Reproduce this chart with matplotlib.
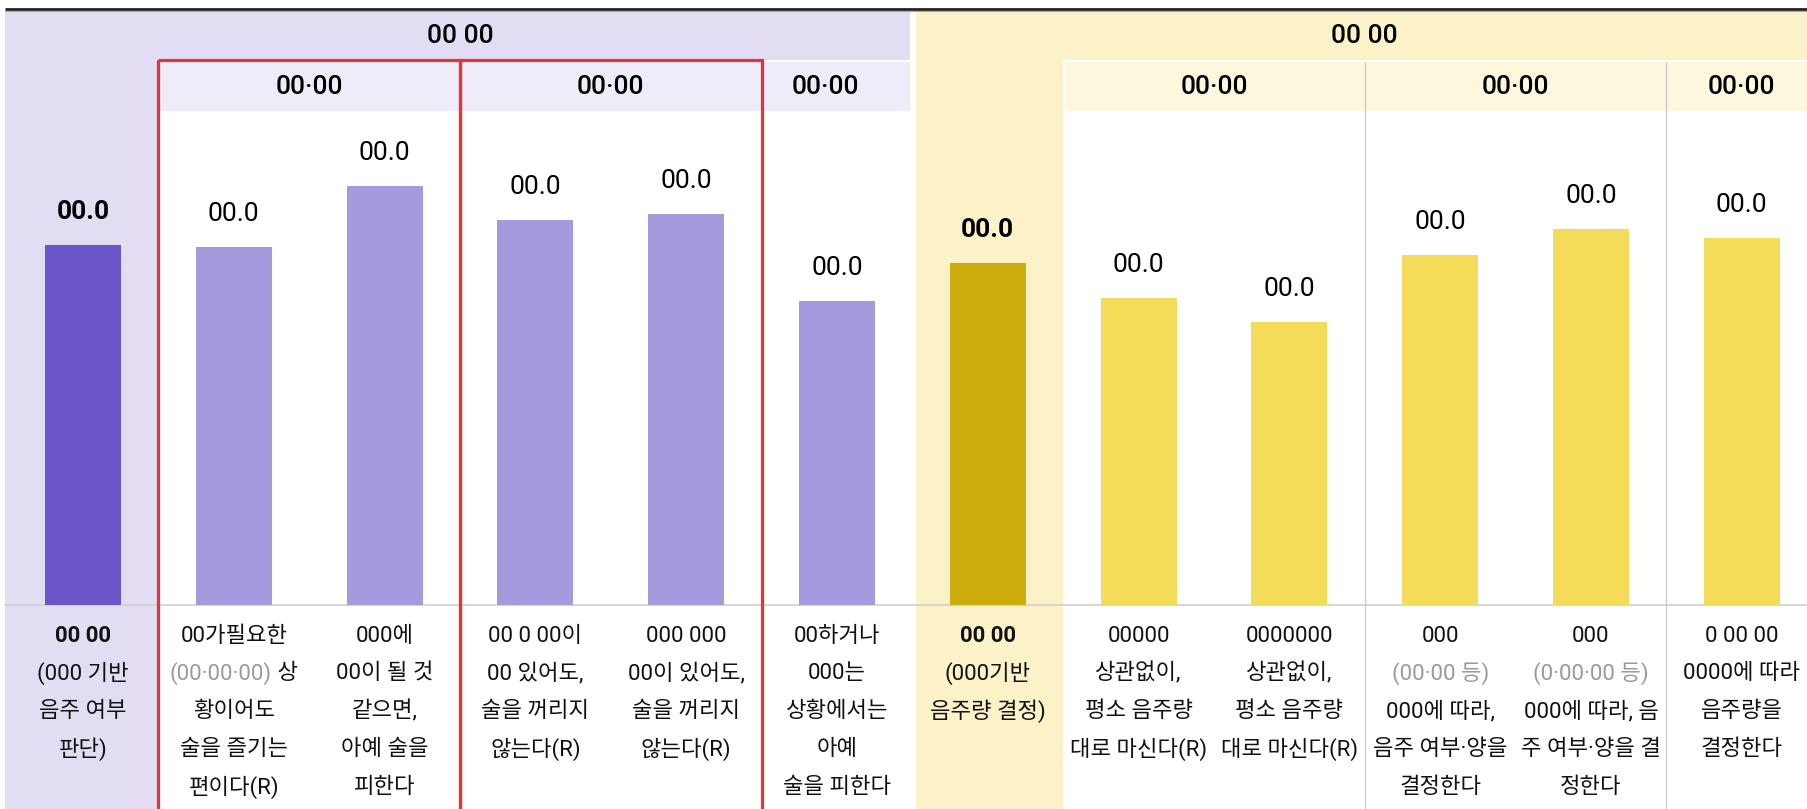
import matplotlib
matplotlib.use("Agg")
import matplotlib.pyplot as plt
from matplotlib.patches import Rectangle

# Latin digits / punctuation from Roboto, hangul falls back to Noto CJK
plt.rcParams['font.family'] = ['Roboto', 'Noto Sans CJK KR', 'DejaVu Sans']

# --- data ---------------------------------------------------------------
values = [51.4, 51.1, 59.9, 55.0, 55.9, 43.4, 48.9, 43.9, 40.4, 50.0, 53.7, 52.4]
value_labels = ["00.0"] * 12
bar_colors = ["#6B55C9"] + ["#A69ADF"] * 5 + ["#CEAC0E"] + ["#F5DB5A"] * 5
total_cols = [0, 6]

group_titles = ["00 00", "00 00"]
sub_titles = ["00·00", "00·00", "00·00", "00·00", "00·00", "00·00"]
sub_pos = [1.5, 3.5, 4.92, 7.5, 9.5, 11.0]

label_lines = [
    ["00 00", "(000 기반", "음주 여부", "판단)"],
    ["00가필요한", "(00·00·00) 상", "황이어도", "술을 즐기는", "편이다(R)"],
    ["000에", "00이 될 것", "같으면,", "아예 술을", "피한다"],
    ["00 0 00이", "00 있어도,", "술을 꺼리지", "않는다(R)"],
    ["000 000", "00이 있어도,", "술을 꺼리지", "않는다(R)"],
    ["00하거나", "000는", "상황에서는", "아예", "술을 피한다"],
    ["00 00", "(000기반", "음주량 결정)"],
    ["00000", "상관없이,", "평소 음주량", "대로 마신다(R)"],
    ["0000000", "상관없이,", "평소 음주량", "대로 마신다(R)"],
    ["000", "(00·00 등)", "000에 따라,", "음주 여부·양을", "결정한다"],
    ["000", "(0·00·00 등)", "000에 따라, 음", "주 여부·양을 결", "정한다"],
    ["0 00 00", "0000에 따라", "음주량을", "결정한다"],
]
gray_text = ["(00·00·00)", "(00·00 등)", "(0·00·00 등)"]

# --- layout (pixels) ----------------------------------------------------
W, H = 1808, 809
colw = 150.8
x0 = -83 / colw
x1 = x0 + W / colw
base_y = 605
top_y = 111
px_per_unit = 7.0

def px2x(px):
    return px / colw + x0

fig = plt.figure(figsize=(W / 100, H / 100), dpi=100)
ax = fig.add_axes([0, 0, 1, 1])
ax.set_xlim(x0, x1)
ax.set_ylim(H, 0)
ax.axis('off')

purple_bg = "#E2DDF3"
purple_sub = "#EFECF9"
yellow_bg = "#FBF2C7"
yellow_sub = "#FDF7DE"

left = px2x(5)
p_end = px2x(910)
y_start = px2x(916)

ax.add_patch(Rectangle((left, 11), p_end - left, 49, color=purple_bg, lw=0))
ax.add_patch(Rectangle((left, 60), 0.5 - left, H - 60, color=purple_bg, lw=0))
ax.add_patch(Rectangle((0.5, 62), p_end - 0.5, 49, color=purple_sub, lw=0))
ax.add_patch(Rectangle((y_start, 11), x1 - y_start, 49, color=yellow_bg, lw=0))
ax.add_patch(Rectangle((y_start, 60), 6.5 - y_start, H - 60, color=yellow_bg, lw=0))
ax.add_patch(Rectangle((px2x(1065), 62), x1 - px2x(1065), 49, color=yellow_sub, lw=0))

# lines
ax.plot([left, x1], [9, 9], color="#222222", lw=2.0, solid_capstyle='butt')
ax.plot([left, x1], [11, 11], color="#AAAAAA", lw=0.8)
ax.plot([left, x1], [base_y, base_y], color="#CFCFCF", lw=1.2)
for xv in [8.5, 10.5]:
    ax.plot([xv, xv], [62, H], color="#CCCCCC", lw=1.0)
for xa, xb in [(0.5, 2.5), (2.5, 4.5)]:
    ax.add_patch(Rectangle((xa, 60), xb - xa, H, fill=False,
                           edgecolor="#E8313B", lw=2.3, zorder=5))

# header text
ax.text(2.5, 36, group_titles[0], ha='center', va='center', fontsize=19, fontweight='medium')
ax.text(8.5, 36, group_titles[1], ha='center', va='center', fontsize=19, fontweight='medium')
for xs, t in zip(sub_pos, sub_titles):
    ax.text(xs, 87, t, ha='center', va='center', fontsize=19, fontweight='medium')

# bars
axb = fig.add_axes([0, (H - base_y) / H, 1, (base_y - top_y) / H])
axb.set_xlim(x0, x1)
axb.set_ylim(0, (base_y - top_y) / px_per_unit)
axb.axis('off')
axb.patch.set_alpha(0)
xs = list(range(len(values)))
axb.bar(xs, values, width=76 / colw, color=bar_colors, zorder=3)
for i, (v, t) in enumerate(zip(values, value_labels)):
    axb.annotate(t, (i, v), xytext=(0, 33), textcoords='offset pixels',
                 ha='center', va='center', fontsize=19,
                 fontweight='bold' if i in total_cols else 'normal')

# category labels
fig.canvas.draw()
renderer = fig.canvas.get_renderer()
line_h = 37.8
first_y = 636
lab_size = 16

def draw_parts(x, y, parts, size, weight):
    texts = []
    for s, c in parts:
        t = ax.text(0, y, s, ha='left', va='center', fontsize=size,
                    fontweight=weight, color=c)
        texts.append(t)
    widths = [t.get_window_extent(renderer).width for t in texts]
    cx = ax.transData.transform((x, y))[0]
    start = cx - sum(widths) / 2
    for t, w in zip(texts, widths):
        t.set_x(ax.transData.inverted().transform((start, 0))[0])
        start += w

for i, lines in enumerate(label_lines):
    for j, line in enumerate(lines):
        y = first_y + j * line_h
        weight = 'bold' if (i in total_cols and j == 0) else 'normal'
        parts = [(line, "#111111")]
        for g in gray_text:
            if line.startswith(g):
                rest = line[len(g):]
                parts = [(g, "#9A9A9A")]
                if rest:
                    parts.append((rest, "#111111"))
        if len(parts) == 1:
            ax.text(i, y, parts[0][0], ha='center', va='center', fontsize=lab_size,
                    fontweight=weight, color=parts[0][1])
        else:
            draw_parts(i, y, parts, lab_size, weight)

fig.savefig("out.png", dpi=100)
